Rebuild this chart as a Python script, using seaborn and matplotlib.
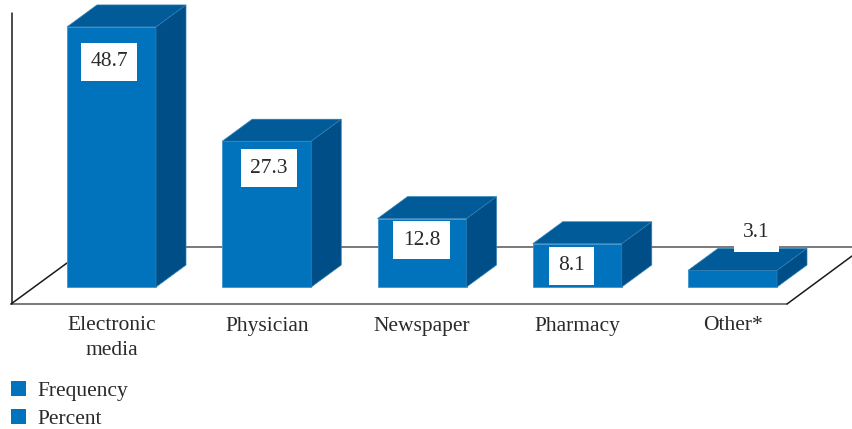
import numpy as np
import pandas as pd
import matplotlib
matplotlib.use("Agg")
import matplotlib.pyplot as plt
from matplotlib.patches import Polygon, Patch
from matplotlib.transforms import Affine2D
import seaborn as sns

categories = ["Electronic\nmedia", "Physician", "Newspaper", "Pharmacy", "Other*"]
percent = [48.7, 27.3, 12.8, 8.1, 3.1]
legend_labels = ["Frequency", "Percent"]

W, H = 852, 429
PX_PER_UNIT = 5.34
PX_PER_CAT = 155.25
FIRST_CENTER = 111.5
BASE_Y = 287
FLOOR_Y = 304
DEPTH = (30, 22)
label_offsets_px = [(-2.5, -35), (2, -27), (-0.5, -21.5), (-6, -22), (24, 37.5)]

FRONT, TOP, SIDE = "#0073BC", "#005B98", "#004E87"
TEXT = "#2b2a29"

sns.set_theme(style="white")
plt.rcParams["font.family"] = ["Liberation Serif", "DejaVu Serif"]
fs = 15.5

fig = plt.figure(figsize=(W / 100, H / 100), dpi=100)
ax = fig.add_axes([0, (H - FLOOR_Y) / H, 1, FLOOR_Y / H], zorder=2)
ax.patch.set_alpha(0)
px = Affine2D().scale(1 / W, -1 / H).translate(0, 1) + fig.transFigure

df = pd.DataFrame({"source": categories, "percent": percent})
sns.barplot(data=df, x="source", y="percent", color=FRONT, saturation=1,
            width=89 / PX_PER_CAT, ax=ax, zorder=3, edgecolor="#3f93cc", linewidth=0.6)

ax.set_xlim(-FIRST_CENTER / PX_PER_CAT, (W - FIRST_CENTER) / PX_PER_CAT)
ax.set_ylim(-(FLOOR_Y - BASE_Y) / PX_PER_UNIT, BASE_Y / PX_PER_UNIT)
ax.set_xlabel("")
ax.set_ylabel("")
ax.set_yticks([])
ax.tick_params(axis="x", length=0, pad=9, labelsize=fs, labelcolor=TEXT)
for lab in ax.get_xticklabels():
    lab.set_linespacing(1.38)
for s in ax.spines.values():
    s.set_visible(False)

# 3-D faces, derived from the drawn bars
dx, dy = DEPTH[0] / PX_PER_CAT, DEPTH[1] / PX_PER_UNIT
bars = list(ax.patches)[:len(percent)]
for bar in bars:
    x0, x1, h = bar.get_x(), bar.get_x() + bar.get_width(), bar.get_height()
    ax.add_patch(Polygon([(x0, h), (x1, h), (x1 + dx, h + dy), (x0 + dx, h + dy)],
                         closed=True, fc=TOP, ec="#2f7fb5", lw=0.5, zorder=3))
    ax.add_patch(Polygon([(x1, 0), (x1, h), (x1 + dx, h + dy), (x1 + dx, dy)],
                         closed=True, fc=SIDE, ec="#2f7fb5", lw=0.5, zorder=3))

# value boxes
for bar, v, (ox, oy) in zip(bars, percent, label_offsets_px):
    ax.annotate(f"{v:.1f}", xy=(bar.get_x() + bar.get_width() / 2, v),
                xytext=(ox * 0.72, oy * 0.72), textcoords="offset points",
                ha="center", va="center", fontsize=fs, color=TEXT, zorder=5,
                bbox=dict(boxstyle="square,pad=0.43", fc="white", ec="none"))

# floor and wall
for xs, ys, c in [([11.5, 11.5], [13, 304], "#1a1a1a"),
                  ([11, 787], [304, 304], "#555555"),
                  ([11, 67], [304, 263], "#1a1a1a"),
                  ([90, 852], [247, 247], "#555555"),
                  ([787, 852], [304, 256], "#1a1a1a")]:
    fig.add_artist(plt.Line2D(xs, ys, color=c, lw=1.1, transform=px, zorder=1))

handles = [Patch(fc=FRONT, ec="none") for _ in legend_labels]
leg = ax.legend(handles, legend_labels, loc="upper left", bbox_to_anchor=(11, 381),
                bbox_transform=px, frameon=False, fontsize=fs, borderpad=0, borderaxespad=0,
                handlelength=0.7, handleheight=0.7, handletextpad=0.55, labelspacing=0.37)
for t in leg.get_texts():
    t.set_color(TEXT)

fig.savefig("out.png", dpi=100)
